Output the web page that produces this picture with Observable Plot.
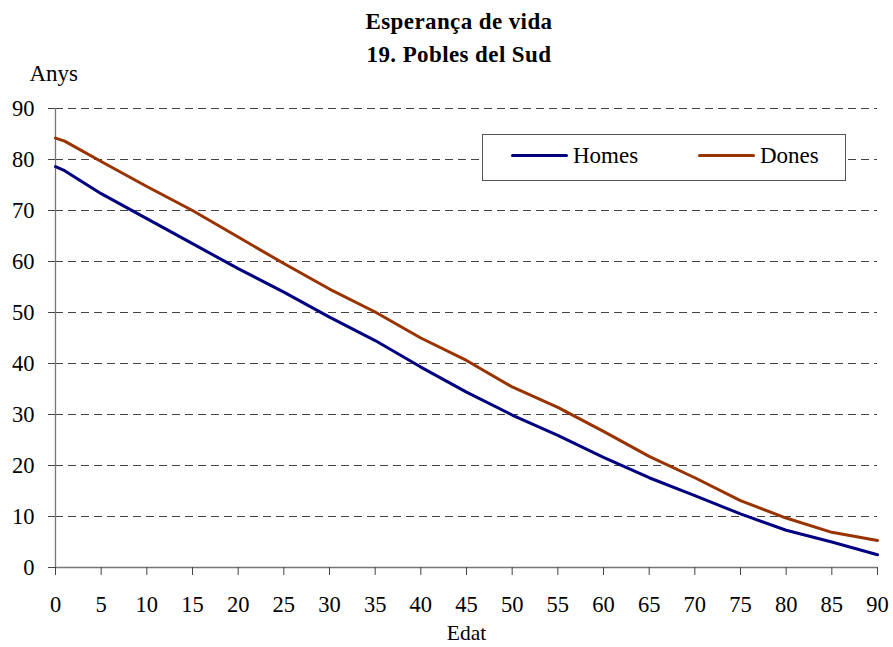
<!DOCTYPE html>
<html>
<head>
<meta charset="utf-8">
<script src="https://cdn.jsdelivr.net/npm/d3@7"></script>
<script src="https://cdn.jsdelivr.net/npm/@observablehq/plot@0.6"></script>
<style>
  body { margin: 0; background: #fff; font-family: 'Liberation Serif', serif; }
  #wrap { position: relative; width: 893px; height: 647px; font-family: 'Liberation Serif', serif; }
  #chart { position: absolute; left: 0; top: 0; }
  #title { position: absolute; left: 0; top: 5px; width: 918px; text-align: center; font-weight: bold; font-size: 23px; line-height: 33px; color: #000; letter-spacing: 0.4px; font-family: 'Liberation Serif', serif; }
  #legend { position: absolute; left: 482px; top: 134px; width: 362px; height: 45px; border: 1px solid #555; background: #fff; font-size: 23px; font-family: 'Liberation Serif', serif; }
  .item { position: absolute; top: -2px; height: 45px; display: flex; align-items: center; }
  .sw { width: 57px; height: 3px; border-radius: 2px; margin-right: 5px; }
</style>
</head>
<body>
<div id="wrap">
  <div id="chart"></div>
  <div id="title">Esperança de vida<br>19. Pobles del Sud</div>
  <div id="legend">
    <div class="item" style="left:28px"><div class="sw" style="background:#000080"></div>Homes</div>
    <div class="item" style="left:215px"><div class="sw" style="background:#993300"></div>Dones</div>
  </div>
</div>
<script>
const ages = [0, 1, 5, 10, 15, 20, 25, 30, 35, 40, 45, 50, 55, 60, 65, 70, 75, 80, 85, 90];
const homes = [78.6, 77.8, 73.3, 68.4, 63.5, 58.6, 54.0, 49.1, 44.5, 39.3, 34.4, 29.9, 25.9, 21.6, 17.6, 14.1, 10.5, 7.3, 5.0, 2.5];
const dones = [84.2, 83.6, 79.6, 74.7, 70.0, 64.8, 59.6, 54.6, 50.1, 45.0, 40.6, 35.4, 31.4, 26.7, 21.8, 17.6, 13.1, 9.7, 6.9, 5.3];
const seriesNames = ["Homes", "Dones"];
const seriesColors = ["#000080", "#993300"];
const xTicks = d3.range(0, 91, 5);
const yTicks = d3.range(0, 91, 10);
const gridTicks = d3.range(10, 91, 10);
const FONT = "'Liberation Serif', serif";

const data = [];
ages.forEach((a, i) => {
  data.push({edat: a, anys: homes[i], serie: seriesNames[0]});
  data.push({edat: a, anys: dones[i], serie: seriesNames[1]});
});

const chart = Plot.plot({
  width: 893,
  height: 647,
  marginTop: 108,
  marginBottom: 80,
  marginLeft: 55,
  marginRight: 16,
  style: {fontFamily: FONT, fontSize: "22px", color: "#000", background: "#fff"},
  x: {domain: [0, 90], ticks: xTicks, label: null},
  y: {domain: [0, 90], ticks: yTicks, label: null},
  color: {domain: seriesNames, range: seriesColors},
  marks: [
    Plot.ruleY(gridTicks, {stroke: "#444", strokeWidth: 1, strokeDasharray: "8,5"}),
    Plot.ruleX([0], {stroke: "#777", strokeWidth: 1.3}),
    Plot.ruleY([0], {stroke: "#777", strokeWidth: 1.3}),
    Plot.axisX({ticks: xTicks, tickSize: 8, tickPadding: 21, stroke: "#444", label: null, fontSize: 22.5, fontFamily: FONT}),
    Plot.axisY({ticks: yTicks, tickSize: 7, tickPadding: 14, stroke: "#444", label: null, fontSize: 22.5, fontFamily: FONT}),
    Plot.line(data, {x: "edat", y: "anys", z: "serie", stroke: "serie", strokeWidth: 3}),
    Plot.text(["Anys"], {frameAnchor: "top-left", lineAnchor: "middle", dx: -26, dy: -35, textAnchor: "start", fontSize: 23, letterSpacing: "1px", fontFamily: FONT}),
    Plot.text(["Edat"], {frameAnchor: "bottom", lineAnchor: "middle", dx: 0, dy: 66, fontSize: 21.5, fontFamily: FONT})
  ]
});
document.getElementById("chart").appendChild(chart);
</script>
</body>
</html>
